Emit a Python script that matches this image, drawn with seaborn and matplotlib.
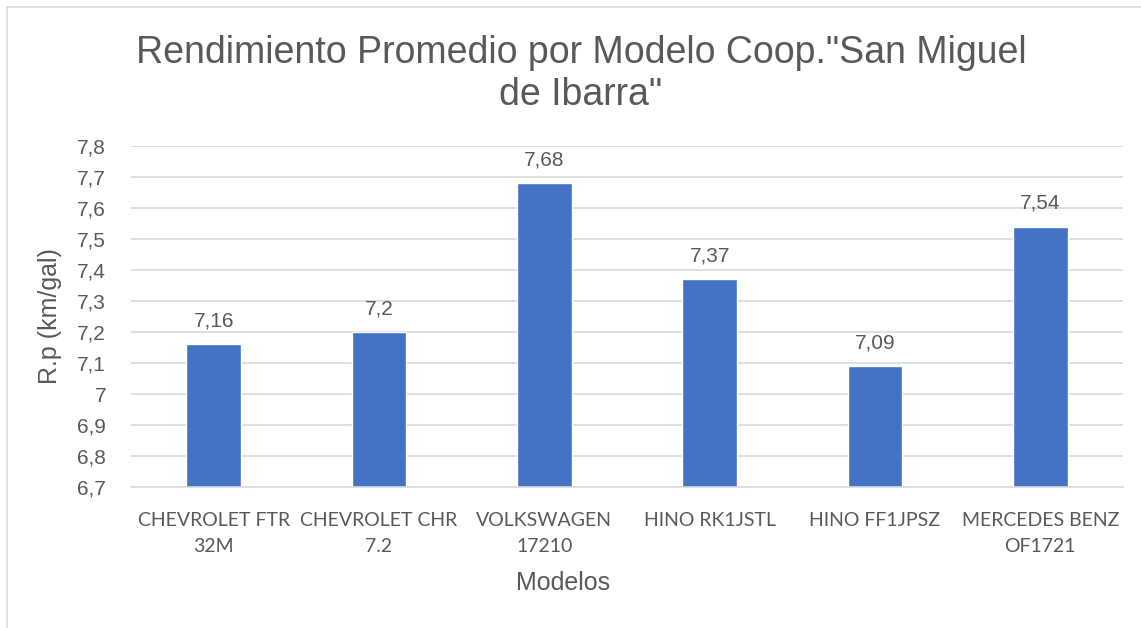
import matplotlib
matplotlib.use('Agg')
import matplotlib.pyplot as plt
import seaborn as sns
import pandas as pd
from matplotlib.ticker import FuncFormatter, MultipleLocator
from matplotlib.patches import Rectangle

# Data
modelos = ['CHEVROLET FTR\n32M', 'CHEVROLET CHR\n7.2', 'VOLKSWAGEN\n17210',
           'HINO RK1JSTL', 'HINO FF1JPSZ', 'MERCEDES BENZ\nOF1721']
rendimiento = [7.16, 7.2, 7.68, 7.37, 7.09, 7.54]
etiquetas = ['7,16', '7,2', '7,68', '7,37', '7,09', '7,54']

df = pd.DataFrame({'modelo': modelos, 'rp': rendimiento})

sns.set_style('white')
plt.rcParams['font.family'] = ['Liberation Sans', 'DejaVu Sans']

gris = '#595959'
fig = plt.figure(figsize=(11.41, 6.28), dpi=100)
ax = fig.add_axes([131 / 1141, 1 - 487 / 628, (1123 - 131) / 1141, (487 - 146) / 628])

sns.barplot(data=df, x='modelo', y='rp', color='#4472C4', width=0.33,
            saturation=1, ax=ax)

ax.set_ylim(6.7, 7.8)
ax.yaxis.set_major_locator(MultipleLocator(0.1))
ax.yaxis.set_major_formatter(FuncFormatter(lambda v, p: f'{round(v, 2):g}'.replace('.', ',')))
ax.grid(axis='y', color='#D9D9D9', linewidth=1.2)
ax.set_axisbelow(True)
for s in ['top', 'right', 'left']:
    ax.spines[s].set_visible(False)
ax.spines['bottom'].set_color('#D9D9D9')
ax.spines['bottom'].set_linewidth(1.2)

ax.tick_params(axis='y', length=0, labelsize=15, labelcolor=gris, pad=18)
ax.tick_params(axis='x', length=0, pad=18)
for lbl in ax.get_xticklabels():
    lbl.set_fontfamily(['Lato', 'DejaVu Sans'])
    lbl.set_fontsize(14)
    lbl.set_color(gris)
    lbl.set_linespacing(1.65)

# Data labels
for i, (v, t) in enumerate(zip(rendimiento, etiquetas)):
    ax.annotate(t, (i, v), xytext=(0, 10), textcoords='offset points',
                ha='center', va='bottom', fontsize=15, color=gris)

ax.set_xlabel('')
ax.set_ylabel('')
fig.text(50 / 1141, 1 - 316 / 628, 'R.p (km/gal)', rotation=90, ha='center',
         va='center', fontsize=18, color=gris)
fig.text(563 / 1141, 1 - 583 / 628, 'Modelos', ha='center', va='center',
         fontsize=18, color=gris)
fig.text(581 / 1141, 1 - 74 / 628,
         'Rendimiento Promedio por Modelo Coop."San Miguel\nde Ibarra"',
         ha='center', va='center', fontsize=27, color=gris, linespacing=1.2)

# chart border
fig.patches.append(Rectangle((7 / 1141, -0.05), 1.1, 1 - 7 / 628 + 0.05,
                             transform=fig.transFigure, fill=False,
                             edgecolor='#D9D9D9', linewidth=1.2))

fig.savefig('out.png', dpi=100)
